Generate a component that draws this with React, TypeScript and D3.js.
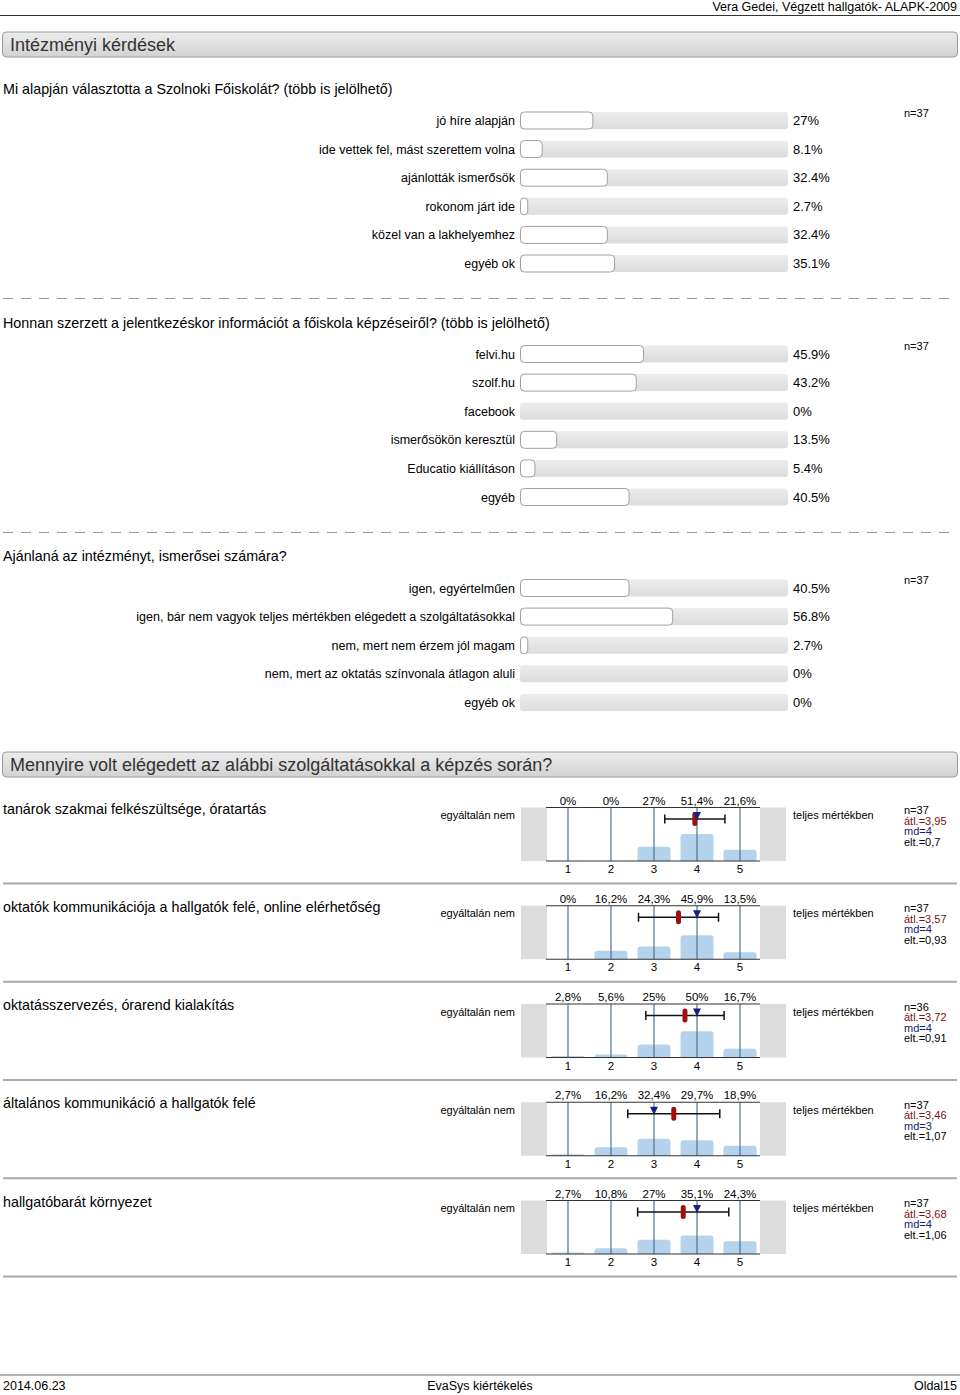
import React from 'react';
import * as d3 from 'd3';

const FONT = 'Arial, "Liberation Sans", Helvetica, sans-serif';

const headerText = 'Vera Gedei, Végzett hallgatók- ALAPK-2009';
const section1Title = 'Intézményi kérdések';
const section2Title = 'Mennyire volt elégedett az alábbi szolgáltatásokkal a képzés során?';

const q1Title = 'Mi alapján választotta a Szolnoki Főiskolát? (több is jelölhető)';
const q1Labels = ['jó híre alapján', 'ide vettek fel, mást szerettem volna', 'ajánlották ismerősök', 'rokonom járt ide', 'közel van a lakhelyemhez', 'egyéb ok'];
const q1Values = [27, 8.1, 32.4, 2.7, 32.4, 35.1];

const q2Title = 'Honnan szerzett a jelentkezéskor információt a főiskola képzéseiről? (több is jelölhető)';
const q2Labels = ['felvi.hu', 'szolf.hu', 'facebook', 'ismerősökön keresztül', 'Educatio kiállításon', 'egyéb'];
const q2Values = [45.9, 43.2, 0, 13.5, 5.4, 40.5];

const q3Title = 'Ajánlaná az intézményt, ismerősei számára?';
const q3Labels = ['igen, egyértelműen', 'igen, bár nem vagyok teljes mértékben elégedett a szolgáltatásokkal', 'nem, mert nem érzem jól magam', 'nem, mert az oktatás színvonala átlagon aluli', 'egyéb ok'];
const q3Values = [40.5, 56.8, 2.7, 0, 0];

const ratingQuestions = [
  'tanárok szakmai felkészültsége, óratartás',
  'oktatók kommunikációja a hallgatók felé, online elérhetőség',
  'oktatásszervezés, órarend kialakítás',
  'általános kommunikáció a hallgatók felé',
  'hallgatóbarát környezet',
];
const ratingPcts = [
  [0, 0, 27, 51.4, 21.6],
  [0, 16.2, 24.3, 45.9, 13.5],
  [2.8, 5.6, 25, 50, 16.7],
  [2.7, 16.2, 32.4, 29.7, 18.9],
  [2.7, 10.8, 27, 35.1, 24.3],
];
const ratingN = [37, 37, 36, 37, 37];
const ratingMean = [3.95, 3.57, 3.72, 3.46, 3.68];
const ratingMedian = [4, 4, 4, 3, 4];
const ratingSd = [0.7, 0.93, 0.91, 1.07, 1.06];
const scaleTicks = [1, 2, 3, 4, 5];
const leftPole = 'egyáltalán nem';
const rightPole = 'teljes mértékben';

const footerLeft = '2014.06.23';
const footerCenter = 'EvaSys kiértékelés';
const footerRight = 'Oldal15';

const comma = (v: number) => String(v).replace('.', ',');

const xBar = d3.scaleLinear().domain([0, 100]).range([520, 788]);
const xRate = d3.scaleLinear().domain([1, 5]).range([568, 740]);

function SectionBar({ y, title }: { y: number; title: string }) {
  return (
    <g>
      <rect x={2.5} y={y} width={955} height={25} rx={4} fill="url(#secGrad)" stroke="#9a9a9a" />
      <text x={10} y={y + 19} fontSize={18} fill="#333">{title}</text>
    </g>
  );
}

function BarQuestion({ titleY, title, labels, values, rowY }: { titleY: number; title: string; labels: string[]; values: number[]; rowY: number }) {
  const step = 28.6;
  return (
    <g>
      <text x={3} y={titleY} fontSize={14.3} fill="#000">{title}</text>
      <text x={904} y={rowY - 4} fontSize={11} fill="#000">n=37</text>
      {labels.map((lab, i) => {
        const cy = rowY + i * step;
        const v = values[i];
        return (
          <g key={i}>
            <text x={515} y={cy + 4.5} fontSize={12.5} textAnchor="end" fill="#000">{lab}</text>
            <rect x={xBar(0)} y={cy - 8.5} width={xBar(100) - xBar(0)} height={17} rx={3} fill="url(#trackGrad)" />
            {v > 0 && (
              <rect x={xBar(0) + 0.5} y={cy - 8.5} width={Math.max(xBar(v) - xBar(0), 6)} height={17} rx={4} fill="#fff" stroke="#a0a0a0" />
            )}
            <text x={793} y={cy + 4.5} fontSize={13} fill="#000">{`${v}%`}</text>
          </g>
        );
      })}
    </g>
  );
}

function RatingBlock({ i }: { i: number }) {
  const top = 807.5 + i * 98.25;
  const bottom = top + 53.5;
  const y = d3.scaleLinear().domain([0, 100]).range([bottom, bottom - 52.5]);
  const pcts = ratingPcts[i];
  const mean = ratingMean[i];
  const sd = ratingSd[i];
  const md = ratingMedian[i];
  const ey = top + 11.5;
  const bw = 33;
  return (
    <g>
      <text x={3} y={top + 6} fontSize={14.3} fill="#000">{ratingQuestions[i]}</text>
      <text x={515} y={top + 11.5} fontSize={11} textAnchor="end" fill="#000">{leftPole}</text>
      <text x={793} y={top + 11.5} fontSize={11} fill="#000">{rightPole}</text>
      <rect x={521} y={top} width={26} height={bottom - top} fill="#dcdcdc" />
      <rect x={760} y={top} width={26} height={bottom - top} fill="#dcdcdc" />
      {pcts.map((p, k) => (
        p > 0 ? (
          <path key={'b' + k}
            d={(() => {
              const x0 = xRate(k + 1) - bw / 2;
              const yt = y(p);
              const h = bottom - yt;
              const r = Math.min(3, h);
              return `M${x0},${bottom} L${x0},${yt + r} Q${x0},${yt} ${x0 + r},${yt} L${x0 + bw - r},${yt} Q${x0 + bw},${yt} ${x0 + bw},${yt + r} L${x0 + bw},${bottom} Z`;
            })()}
            fill="#b5d3ec" />
        ) : null
      ))}
      {scaleTicks.map((t) => (
        <line key={'v' + t} x1={xRate(t)} x2={xRate(t)} y1={top} y2={bottom} stroke="#4f7390" strokeWidth={1.2} />
      ))}
      <line x1={546} x2={760} y1={top} y2={top} stroke="#333" strokeWidth={1.2} />
      <line x1={546} x2={760} y1={bottom} y2={bottom} stroke="#333" strokeWidth={1.2} />
      {pcts.map((p, k) => (
        <text key={'p' + k} x={xRate(k + 1)} y={top - 3} fontSize={11.5} textAnchor="middle" fill="#000">{`${comma(p)}%`}</text>
      ))}
      {scaleTicks.map((t) => (
        <text key={'t' + t} x={xRate(t)} y={bottom + 12} fontSize={11.5} textAnchor="middle" fill="#000">{t}</text>
      ))}
      <line x1={xRate(mean - sd)} x2={xRate(mean + sd)} y1={ey} y2={ey} stroke="#111" strokeWidth={1.5} />
      <line x1={xRate(mean - sd)} x2={xRate(mean - sd)} y1={ey - 4.5} y2={ey + 4.5} stroke="#111" strokeWidth={1.5} />
      <line x1={xRate(mean + sd)} x2={xRate(mean + sd)} y1={ey - 4.5} y2={ey + 4.5} stroke="#111" strokeWidth={1.5} />
      <rect x={xRate(mean) - 2.5} y={ey - 7} width={5} height={14} rx={2.5} fill="#a01010" />
      <path d={`M${xRate(md) - 4},${ey - 7} L${xRate(md) + 4},${ey - 7} L${xRate(md)},${ey + 1} Z`} fill="#14207a" />
      <text x={904} y={top + 6.5} fontSize={11} fill="#000">{`n=${ratingN[i]}`}</text>
      <text x={904} y={top + 17} fontSize={11} fill="#7a1010">{`átl.=${comma(mean)}`}</text>
      <text x={904} y={top + 27.5} fontSize={11} fill="#14207a">{`md=${md}`}</text>
      <text x={904} y={top + 38} fontSize={11} fill="#000">{`elt.=${comma(sd)}`}</text>
      <line x1={3} x2={957} y1={top + 76} y2={top + 76} stroke="#a8a8a8" strokeWidth={2} />
    </g>
  );
}

export default function App() {
  return (
    <svg width={960} height={1395} style={{ position: 'absolute', left: 0, top: 0, background: '#fff' }} fontFamily={FONT}>
      <defs>
        <linearGradient id="secGrad" x1="0" y1="0" x2="0" y2="1">
          <stop offset="0" stopColor="#ececec" />
          <stop offset="1" stopColor="#d2d2d2" />
        </linearGradient>
        <linearGradient id="trackGrad" x1="0" y1="0" x2="0" y2="1">
          <stop offset="0" stopColor="#ececec" />
          <stop offset="1" stopColor="#dcdcdc" />
        </linearGradient>
      </defs>
      <rect x={0} y={0} width={960} height={1395} fill="#fff" />
      <text x={957} y={11} fontSize={12.5} textAnchor="end" fill="#000">{headerText}</text>
      <line x1={0} x2={960} y1={15.5} y2={15.5} stroke="#333" strokeWidth={1} />

      <SectionBar y={32} title={section1Title} />
      <BarQuestion titleY={94} title={q1Title} labels={q1Labels} values={q1Values} rowY={120.5} />
      <line x1={3} x2={957} y1={298.5} y2={298.5} stroke="#999" strokeDasharray="10,8" />
      <BarQuestion titleY={328} title={q2Title} labels={q2Labels} values={q2Values} rowY={354} />
      <line x1={3} x2={957} y1={532.5} y2={532.5} stroke="#999" strokeDasharray="10,8" />
      <BarQuestion titleY={561} title={q3Title} labels={q3Labels} values={q3Values} rowY={588} />

      <SectionBar y={752} title={section2Title} />
      {ratingQuestions.map((_, i) => <RatingBlock key={i} i={i} />)}

      <line x1={0} x2={960} y1={1375} y2={1375} stroke="#b0b0b0" strokeWidth={2} />
      <text x={3} y={1390} fontSize={12.5} fill="#000">{footerLeft}</text>
      <text x={480} y={1390} fontSize={12.5} textAnchor="middle" fill="#000">{footerCenter}</text>
      <text x={957} y={1390} fontSize={12.5} textAnchor="end" fill="#000">{footerRight}</text>
    </svg>
  );
}
